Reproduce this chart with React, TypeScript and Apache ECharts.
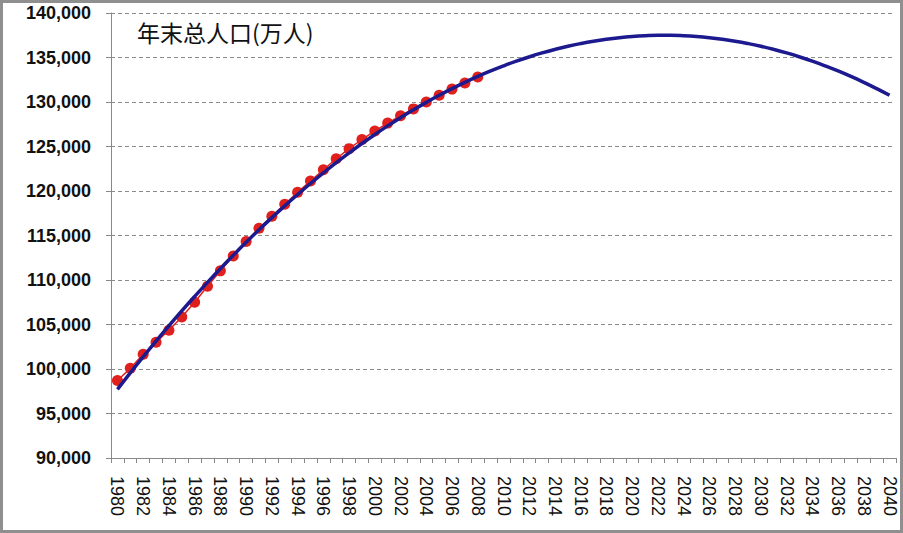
import React, { useEffect, useRef } from "react";
import * as echarts from "echarts";

const years: string[] = [];
for (let y = 1980; y <= 2040; y++) years.push(String(y));

// Year-end total population (10k persons), 1980-2008
const actual: number[] = [
  98705, 100072, 101654, 103008, 104357, 105851, 107507, 109300, 111026, 112704,
  114333, 115823, 117171, 118517, 119850, 121121, 122389, 123626, 124761, 125786,
  126743, 127627, 128453, 129227, 129988, 130756, 131448, 132129, 132802,
];

// Fitted trend curve values, 1980-2040
const trend: number[] = [
  97708, 99559, 101365, 103128, 104846, 106520, 108150, 109737, 111279, 112777,
  114231, 115641, 117007, 118328, 119606, 120840, 122029, 123175, 124276, 125334,
  126347, 127317, 128242, 129123, 129960, 130753, 131502, 132207, 132868, 133485,
  134058, 134587, 135071, 135512, 135908, 136261, 136569, 136834, 137054, 137230,
  137362, 137450, 137494, 137494, 137450, 137362, 137230, 137054, 136834, 136569,
  136261, 135908, 135512, 135071, 134587, 134058, 133485, 132868, 132207, 131502,
  130753,
];

const title = "年末总人口(万人)";

export default function App() {
  const ref = useRef<HTMLDivElement>(null);
  useEffect(() => {
    const chart = echarts.init(ref.current!, null, { renderer: "svg" });
    chart.setOption({
      animation: false,
      backgroundColor: "#ffffff",
      grid: { left: 108, right: 4, top: 10, bottom: 72, containLabel: false, show: false },
      graphic: [
        {
          type: "text",
          left: 134,
          top: 17,
          style: { text: title, font: '23px "Noto Sans CJK SC"', fill: "#111" },
        },
        {
          type: "rect",
          right: 0,
          top: 0,
          z: 100,
          silent: true,
          shape: { width: 6, height: 450 },
          style: { fill: "#ffffff" },
        },
      ],
      xAxis: {
        type: "category",
        data: years,
        boundaryGap: true,
        axisLine: { lineStyle: { color: "#888", width: 1 } },
        axisTick: { show: true, interval: 0, length: 5, lineStyle: { color: "#888" } },
        axisLabel: {
          interval: 1,
          rotate: -90,
          margin: 18,
          color: "#111",
          fontSize: 18,
          fontFamily: "Liberation Sans, Arial, sans-serif",
        },
        splitLine: { show: false },
        splitArea: { show: false },
      },
      yAxis: {
        type: "value",
        min: 90000,
        max: 140000,
        interval: 5000,
        axisLine: { show: true, lineStyle: { color: "#888", width: 1 } },
        axisTick: { show: true, length: 5, lineStyle: { color: "#888" } },
        axisLabel: {
          margin: 20,
          color: "#111",
          fontSize: 18,
          fontWeight: "bold",
          fontFamily: "Liberation Sans, Arial, sans-serif",
          formatter: (v: number) => v.toLocaleString("en-US"),
        },
        splitLine: { show: true, lineStyle: { color: "#8a8a8a", type: [4, 3], width: 1 } },
      },
      series: [
        {
          name: "实际",
          type: "line",
          data: actual,
          symbol: "circle",
          symbolSize: 11,
          showAllSymbol: true,
          itemStyle: { color: "#e0201c" },
          lineStyle: { color: "#e0201c", width: 1.5 },
          z: 2,
        },
        {
          name: "趋势",
          type: "line",
          data: trend,
          smooth: true,
          showSymbol: false,
          symbol: "none",
          lineStyle: { color: "#1c1a8e", width: 3.5 },
          z: 3,
        },
      ],
    });
    return () => chart.dispose();
  }, []);
  return (
    <div
      style={{
        position: "fixed",
        left: 0,
        top: 0,
        width: 903,
        height: 533,
        boxSizing: "border-box",
        border: "3px solid #8f8f8f",
        background: "#fff",
        overflow: "hidden",
      }}
    >
      <div ref={ref} style={{ width: 897, height: 527 }} />
    </div>
  );
}
